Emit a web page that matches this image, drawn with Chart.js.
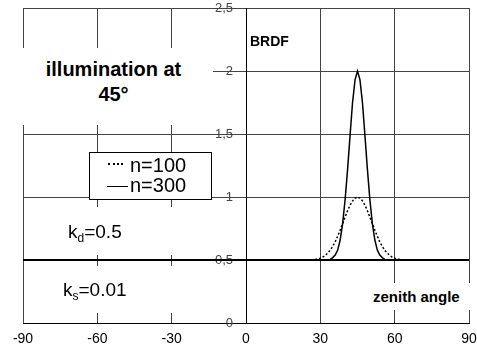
<!DOCTYPE html>
<html>
<head>
<meta charset="utf-8">
<script src="https://cdn.jsdelivr.net/npm/chart.js@4/dist/chart.umd.min.js"></script>
<style>
  body { margin: 0; background: #fff; font-family: Arial, "Liberation Sans", sans-serif; }
  #wrap { position: relative; width: 477px; height: 356px; }
  #wrap canvas { display: block; }
  .box { position: absolute; background: #fff; color: #000; white-space: nowrap; }
  .sub { font-size: 12px; vertical-align: -4px; }
</style>
</head>
<body>
<div id="wrap">
  <canvas id="brdfChart" width="477" height="356"></canvas>

  <div class="box" style="left:10px; top:48px; width:203px; height:77px; font-weight:bold; font-size:20px; line-height:25px; text-align:center; padding-top:9px; box-sizing:border-box; padding-left:4px;">illumination at<br>45°</div>

  <div class="box" style="left:89px; top:152px; width:123px; height:48px; border:1px solid #000; box-sizing:border-box; font-size:20px; line-height:20px;">
    <span style="position:absolute; left:18px; top:10px; width:15px; border-top:2px dotted #000;"></span>
    <span style="position:absolute; left:40px; top:2px;">n=100</span>
    <span style="position:absolute; left:17px; top:33px; width:21px; border-top:1.5px solid #000;"></span>
    <span style="position:absolute; left:40px; top:22px;">n=300</span>
  </div>

  <div class="box" style="left:30px; top:207px; width:160px; height:48px; font-size:19px;"><span style="position:absolute; left:38px; top:14px;">k<span class="sub">d</span>=0.5</span></div>

  <div class="box" style="left:30px; top:266px; width:160px; height:47px; font-size:19px;"><span style="position:absolute; left:33px; top:13px;">k<span class="sub">s</span>=0.01</span></div>

  <div class="box" style="left:250px; top:32px; font-weight:bold; font-size:14px; line-height:18px; background:transparent;">BRDF</div>

  <div class="box" style="left:371px; top:283px; width:102px; height:27px; font-weight:bold; font-size:15px; line-height:27px; padding-left:2px; box-sizing:border-box;">zenith angle</div>
</div>

<script>
// zenith angle (degrees)
const angles = [-90, -60, -30, 0, 25, 26, 27, 28, 29, 30, 31, 32, 33, 34, 35, 36, 37, 38, 39, 40,
  41, 42, 43, 44, 45, 46, 47, 48, 49, 50, 51, 52, 53, 54, 55, 56, 57, 58, 59, 60,
  61, 62, 63, 64, 65, 90];

// BRDF for n=100 (dotted)
const brdfN100 = [0.5, 0.5, 0.5, 0.5, 0.501, 0.502, 0.504, 0.506, 0.51, 0.516, 0.525, 0.538, 0.556, 0.579, 0.609, 0.646, 0.689, 0.737, 0.789, 0.842,
  0.892, 0.936, 0.97, 0.992, 1.0, 0.992, 0.97, 0.936, 0.892, 0.842, 0.789, 0.737, 0.689, 0.646, 0.609, 0.579, 0.556, 0.538, 0.525, 0.516,
  0.51, 0.506, 0.504, 0.502, 0.501, 0.5];

// BRDF for n=300 (solid)
const brdfN300 = [0.5, 0.5, 0.5, 0.5, 0.5, 0.5, 0.5, 0.5, 0.5, 0.5, 0.5, 0.501, 0.502, 0.506, 0.52, 0.54, 0.58, 0.66, 0.79, 0.98,
  1.22, 1.49, 1.75, 1.93, 2.0, 1.93, 1.75, 1.49, 1.22, 0.98, 0.79, 0.66, 0.58, 0.54, 0.52, 0.506, 0.502, 0.501, 0.5, 0.5,
  0.5, 0.5, 0.5, 0.5, 0.5, 0.5];

const xTicks = [-90, -60, -30, 0, 30, 60, 90];
const yTicks = [0, 0.5, 1, 1.5, 2, 2.5];

function toPoints(values) {
  return angles.map((a, i) => ({ x: a, y: values[i] }));
}

const ctx = document.getElementById('brdfChart').getContext('2d');
const brdfChart = new Chart(ctx, {
  type: 'line',
  data: {
    datasets: [{
      label: 'n=100',
      data: toPoints(brdfN100),
      borderColor: '#000',
      borderWidth: 1.5,
      borderDash: [2, 2],
      pointRadius: 0,
      tension: 0
    }, {
      label: 'n=300',
      data: toPoints(brdfN300),
      borderColor: '#000',
      borderWidth: 1.5,
      pointRadius: 0,
      tension: 0
    }]
  },
  options: {
    responsive: false,
    animation: false,
    layout: {
      padding: { left: 23, right: 8, top: 8, bottom: 0 }
    },
    plugins: {
      legend: { display: false },
      tooltip: { enabled: false }
    },
    scales: {
      x: {
        type: 'linear',
        min: -90,
        max: 90,
        afterBuildTicks: axis => { axis.ticks = xTicks.map(v => ({ value: v })); },
        // keep the plot edges where the layout padding puts them
        afterFit: axis => {
          axis.paddingLeft = 0;
          axis.paddingRight = 0;
        },
        ticks: {
          color: '#000',
          padding: 8,
          font: { family: 'Arial', size: 14 }
        },
        grid: {
          color: '#444',
          lineWidth: 1,
          drawTicks: false
        },
        border: { color: '#000', width: 1 }
      },
      y: {
        type: 'linear',
        min: 0,
        max: 2.5,
        position: { x: 0 },
        afterBuildTicks: axis => { axis.ticks = yTicks.map(v => ({ value: v })); },
        // the axis sits inside the plot, so it should not take layout room
        afterFit: axis => {
          axis.width = 0;
          axis.paddingTop = 0;
          axis.paddingBottom = 0;
          axis.paddingLeft = 0;
          axis.paddingRight = 0;
        },
        ticks: {
          color: '#444',
          font: { family: 'Arial', size: 13 },
          // comma decimals, pushed left of the axis
          callback: v => String(v).replace('.', ',') + '\u2002\u2002'
        },
        grid: {
          color: ctx => (ctx.tick && ctx.tick.value === 0.5) ? '#000' : '#444',
          lineWidth: ctx => (ctx.tick && ctx.tick.value === 0.5) ? 2 : 1,
          tickLength: 9
        },
        border: { color: '#000', width: 1 }
      }
    }
  }
});
</script>
</body>
</html>
